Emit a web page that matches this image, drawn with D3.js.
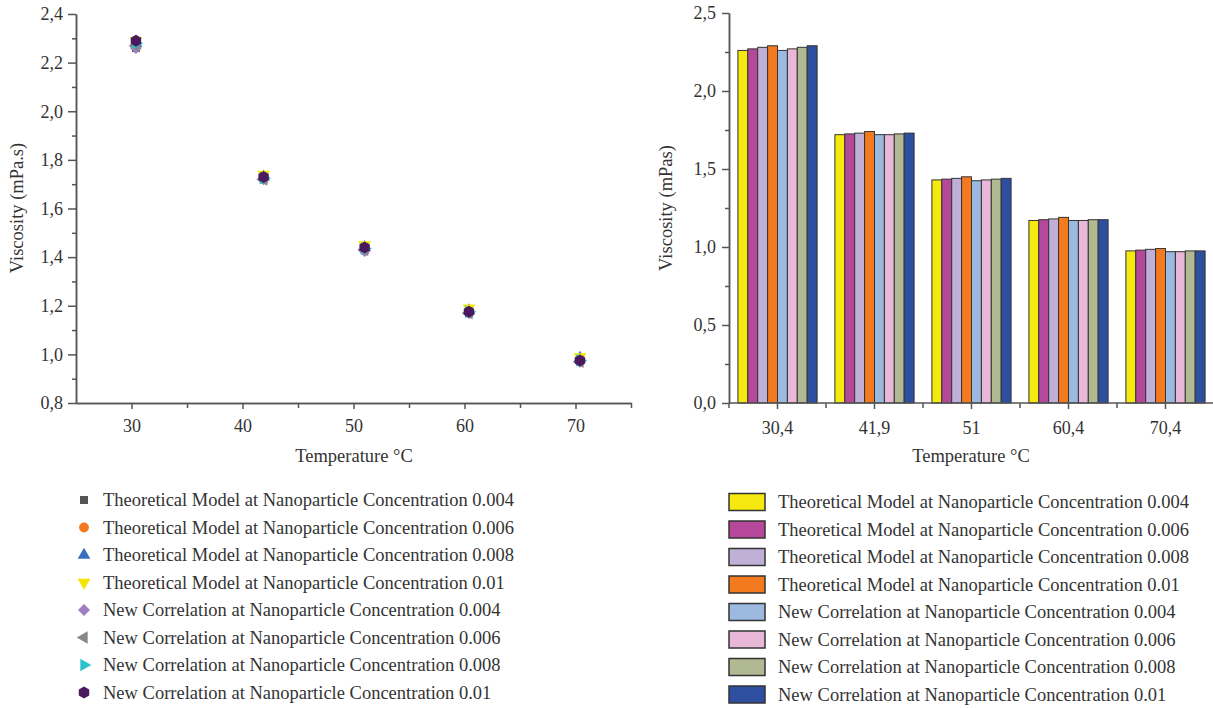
<!DOCTYPE html>
<html>
<head>
<meta charset="utf-8">
<title>Viscosity vs Temperature</title>
<script src="https://d3js.org/d3.v7.min.js"></script>
<style>
  body { margin: 0; background: #fff; }
  text { font-family: "Liberation Serif", "Times New Roman", serif; fill: #333; }
</style>
</head>
<body>
<div id="chart"></div>
<script>
// temperatures (°C)
var temps = [30.4, 41.9, 51, 60.4, 70.4];
var tempLabels = ["30,4", "41,9", "51", "60,4", "70,4"];

var seriesNames = [
  "Theoretical Model at Nanoparticle Concentration 0.004",
  "Theoretical Model at Nanoparticle Concentration 0.006",
  "Theoretical Model at Nanoparticle Concentration 0.008",
  "Theoretical Model at Nanoparticle Concentration 0.01",
  "New Correlation at Nanoparticle Concentration 0.004",
  "New Correlation at Nanoparticle Concentration 0.006",
  "New Correlation at Nanoparticle Concentration 0.008",
  "New Correlation at Nanoparticle Concentration 0.01"
];

// viscosity (mPa.s), one array per series, per temperature
var theo004 = [2.26, 1.72, 1.43, 1.17, 0.975];
var theo006 = [2.27, 1.725, 1.435, 1.175, 0.98];
var theo008 = [2.28, 1.73, 1.44, 1.18, 0.985];
var theo01  = [2.29, 1.74, 1.45, 1.19, 0.99];
var corr004 = [2.26, 1.72, 1.425, 1.17, 0.97];
var corr006 = [2.27, 1.72, 1.43, 1.17, 0.97];
var corr008 = [2.28, 1.725, 1.435, 1.175, 0.975];
var corr01  = [2.29, 1.73, 1.44, 1.175, 0.975];
var allSeries = [theo004, theo006, theo008, theo01, corr004, corr006, corr008, corr01];

// left chart marker colours / shapes
var markerColors = ["#555555", "#f47a20", "#3a6fbf", "#f2e500", "#a07cc0", "#888888", "#2cc3cc", "#4b1a5e"];
var markerShapes = ["square", "circle", "triangle", "down", "diamond", "left", "right", "hexagon"];

// right chart bar colours
var barColors = ["#f5e90f", "#b5489a", "#c0b0d8", "#f47a1f", "#9cb9e0", "#e9b8d8", "#b1b992", "#2e4fa0"];

var leftTicks = [0.8, 1.0, 1.2, 1.4, 1.6, 1.8, 2.0, 2.2, 2.4];
var rightTicks = [0, 0.5, 1.0, 1.5, 2.0, 2.5];

var comma = function (f) { return function (d) { return d3.format(f)(d).replace(".", ","); }; };

var svg = d3.select("#chart").append("svg")
  .attr("width", 1213).attr("height", 708);

var axisColor = "#555";
var fs = "18.5px";

function styleAxis(g) {
  g.selectAll("path, line").attr("stroke", axisColor).attr("stroke-width", 1.5);
  g.selectAll("text").style("font-family", "Liberation Serif, serif").style("font-size", "18px").attr("fill", "#333");
}

// marker path generator
function markerPath(shape, s) {
  if (shape === "hexagon") {
    var pts = d3.range(6).map(function (i) {
      var a = Math.PI / 6 + i * Math.PI / 3;
      return [s * Math.cos(a), s * Math.sin(a)];
    });
    return "M" + pts.join("L") + "Z";
  }
  if (shape === "diamond") {
    return "M0," + (-s) + "L" + s + ",0L0," + s + "L" + (-s) + ",0Z";
  }
  var sym = {
    square: d3.symbolSquare, circle: d3.symbolCircle, triangle: d3.symbolTriangle,
    down: d3.symbolTriangle, left: d3.symbolTriangle, right: d3.symbolTriangle
  }[shape];
  var size = { square: 64, circle: 75, triangle: 70, down: 70, left: 70, right: 70 }[shape];
  return d3.symbol().type(sym).size(size)();
}
var rot = { down: 180, left: -90, right: 90 };

// ---------- left scatter chart ----------
var lx = d3.scaleLinear().domain([25, 75]).range([76, 631]);
var ly = d3.scaleLinear().domain([0.8, 2.4]).range([403, 14]);

var gl = svg.append("g");
gl.append("g").attr("transform", "translate(0,403)")
  .call(d3.axisBottom(lx).tickValues([35, 45, 55, 65, 75]).tickSize(5).tickFormat("").tickSizeOuter(0))
  .call(styleAxis);
gl.append("g").attr("transform", "translate(0,403)")
  .call(d3.axisBottom(lx).tickValues([30, 40, 50, 60, 70]).tickSize(6).tickPadding(10).tickSizeOuter(0))
  .call(styleAxis);
gl.append("g").attr("transform", "translate(76,0)")
  .call(d3.axisLeft(ly).tickValues([0.9, 1.1, 1.3, 1.5, 1.7, 1.9, 2.1, 2.3]).tickSize(4).tickFormat("").tickSizeOuter(0))
  .call(styleAxis);
gl.append("g").attr("transform", "translate(76,0)")
  .call(d3.axisLeft(ly).tickValues(leftTicks).tickSize(8).tickPadding(5).tickFormat(comma(".1f")).tickSizeOuter(0))
  .call(styleAxis);

gl.append("text").attr("x", 354).attr("y", 462).attr("text-anchor", "middle")
  .style("font-size", fs).text("Temperature °C");
gl.append("text").attr("transform", "translate(23,208) rotate(-90)").attr("text-anchor", "middle")
  .style("font-size", fs).text("Viscosity (mPa.s)");

allSeries.forEach(function (vals, si) {
  gl.append("g").selectAll("path").data(vals).enter().append("path")
    .attr("d", markerPath(markerShapes[si], 6))
    .attr("transform", function (d, i) {
      return "translate(" + lx(temps[i]) + "," + ly(d) + ")" + (rot[markerShapes[si]] ? " rotate(" + rot[markerShapes[si]] + ")" : "");
    })
    .attr("fill", markerColors[si]);
});

// left legend
var ll = svg.append("g");
seriesNames.forEach(function (name, si) {
  var y = 500 + si * 27.5;
  ll.append("path").attr("d", markerPath(markerShapes[si], 6))
    .attr("transform", "translate(84," + y + ")" + (rot[markerShapes[si]] ? " rotate(" + rot[markerShapes[si]] + ")" : ""))
    .attr("fill", markerColors[si]);
  ll.append("text").attr("x", 103).attr("y", y + 6).style("font-size", fs).text(name);
});

// ---------- right bar chart ----------
var bx = d3.scaleBand().domain(tempLabels).range([729, 1214]);
var bInner = d3.scaleBand().domain(d3.range(8)).range([0, bx.bandwidth()]).paddingOuter(0.9);
var by = d3.scaleLinear().domain([0, 2.5]).range([403, 13]);

var gr = svg.append("g");
allSeries.forEach(function (vals, si) {
  gr.append("g").selectAll("rect").data(vals).enter().append("rect")
    .attr("x", function (d, i) { return bx(tempLabels[i]) + bInner(si); })
    .attr("y", function (d) { return by(d); })
    .attr("width", bInner.bandwidth())
    .attr("height", function (d) { return by(0) - by(d); })
    .attr("fill", barColors[si])
    .attr("stroke", "#333").attr("stroke-width", 1);
});

var minorX = tempLabels.map(function (t) { return bx(t) + bx.bandwidth(); });
gr.append("path").attr("d", "M729,403H1213").attr("stroke", axisColor).attr("stroke-width", 1.5);
gr.append("g").attr("transform", "translate(0,403)").selectAll("line").data([729].concat(minorX)).enter()
  .append("line").attr("x1", function (d) { return d; }).attr("x2", function (d) { return d; })
  .attr("y1", 0).attr("y2", 5).attr("stroke", axisColor).attr("stroke-width", 1.5);
gr.append("g").attr("transform", "translate(0,403)")
  .call(d3.axisBottom(bx).tickSize(6).tickPadding(12).tickSizeOuter(0))
  .call(styleAxis)
  .select(".domain").remove();
gr.append("g").attr("transform", "translate(729,0)")
  .call(d3.axisLeft(by).tickValues([0.25, 0.75, 1.25, 1.75, 2.25]).tickSize(4).tickFormat("").tickSizeOuter(0))
  .call(styleAxis);
gr.append("g").attr("transform", "translate(729,0)")
  .call(d3.axisLeft(by).tickValues(rightTicks).tickSize(7).tickPadding(6).tickFormat(comma(".1f")).tickSizeOuter(0))
  .call(styleAxis);

gr.append("text").attr("x", 971).attr("y", 462).attr("text-anchor", "middle")
  .style("font-size", fs).text("Temperature °C");
gr.append("text").attr("transform", "translate(672,208) rotate(-90)").attr("text-anchor", "middle")
  .style("font-size", fs).text("Viscosity (mPas)");

// right legend
var rl = svg.append("g");
seriesNames.forEach(function (name, si) {
  var y = 502 + si * 27.5;
  rl.append("rect").attr("x", 729).attr("y", y - 8.5).attr("width", 36).attr("height", 17)
    .attr("fill", barColors[si]).attr("stroke", "#333").attr("stroke-width", 1.5);
  rl.append("text").attr("x", 778).attr("y", y + 6).style("font-size", fs).text(name);
});
</script>
</body>
</html>
